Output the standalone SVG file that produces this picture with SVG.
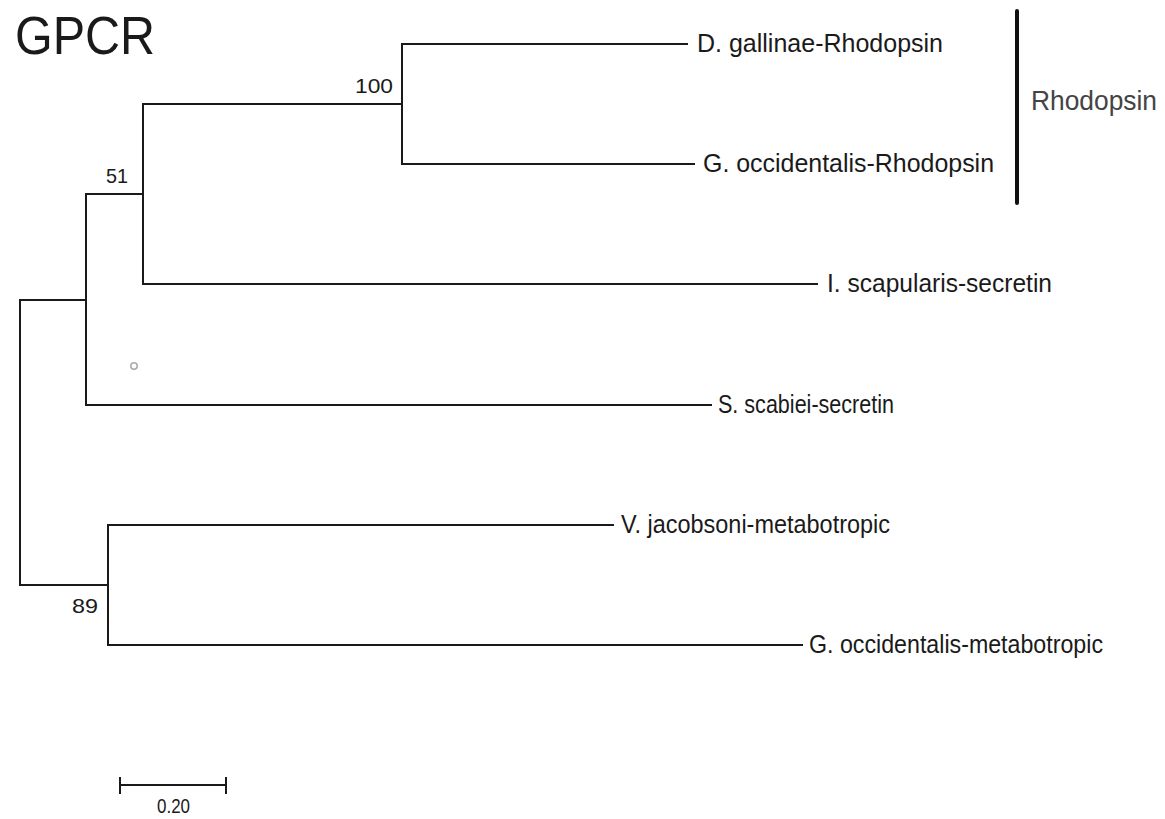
<svg xmlns="http://www.w3.org/2000/svg" width="1165" height="819" viewBox="0 0 1165 819">
<style>
.br{fill:none;stroke:#1a1a1a;stroke-width:2;stroke-linecap:square}
.tx{font-family:"Liberation Sans",Arial,sans-serif;font-size:26px;fill:#1a1a1a}
.bs{font-family:"Liberation Sans",Arial,sans-serif;font-size:21px;fill:#1a1a1a}
</style>
<rect width="1165" height="819" fill="#fff"/>
<text x="15" y="54" font-family="'Liberation Sans',Arial,sans-serif" font-size="54" fill="#1a1a1a" textLength="140" lengthAdjust="spacingAndGlyphs">GPCR</text>
<g id="connectors">
<path class="br" d="M20,300 V585"/>
<path class="br" d="M20,300 H86"/>
<path class="br" d="M20,585 H108"/>
<path class="br" d="M86,194 V405"/>
<path class="br" d="M86,194 H143"/>
<path class="br" d="M86,405 H711"/>
<path class="br" d="M143,104 V284"/>
<path class="br" d="M143,104 H402"/>
<path class="br" d="M143,284 H817"/>
<path class="br" d="M402,44 V164"/>
<path class="br" d="M402,44 H687"/>
<path class="br" d="M402,164 H694"/>
<path class="br" d="M108,525 V645"/>
<path class="br" d="M108,525 H613"/>
<path class="br" d="M108,645 H802"/>
</g>
<g id="node-dgal"><text class="tx" x="697" y="52" textLength="246" lengthAdjust="spacingAndGlyphs">D. gallinae-Rhodopsin</text></g>
<g id="node-gocr"><text class="tx" x="703" y="172" textLength="291" lengthAdjust="spacingAndGlyphs">G. occidentalis-Rhodopsin</text></g>
<g id="node-isc"><text class="tx" x="827" y="292" textLength="225" lengthAdjust="spacingAndGlyphs">I. scapularis-secretin</text></g>
<g id="node-ssc"><text class="tx" x="718" y="413" textLength="176" lengthAdjust="spacingAndGlyphs">S. scabiei-secretin</text></g>
<g id="node-vjac"><text class="tx" x="621" y="533" textLength="269" lengthAdjust="spacingAndGlyphs">V. jacobsoni-metabotropic</text></g>
<g id="node-gocm"><text class="tx" x="809" y="653" textLength="294" lengthAdjust="spacingAndGlyphs">G. occidentalis-metabotropic</text></g>
<g id="node-100"><text class="bs" x="355" y="93" textLength="38" lengthAdjust="spacingAndGlyphs">100</text></g>
<g id="node-51"><text class="bs" x="106" y="183" textLength="22" lengthAdjust="spacingAndGlyphs">51</text></g>
<g id="node-89"><text class="bs" x="72" y="613" textLength="26" lengthAdjust="spacingAndGlyphs">89</text></g>
<g id="marker-circle"><circle cx="134" cy="366" r="3.2" fill="none" stroke="#aaa" stroke-width="1.5"/></g>
<g id="clade-rhodopsin">
<line x1="1017" y1="11" x2="1017" y2="203" stroke="#111" stroke-width="4" stroke-linecap="round"/>
<text x="1031" y="110" font-family="'Liberation Sans',Arial,sans-serif" font-size="28" fill="#444" textLength="126" lengthAdjust="spacingAndGlyphs">Rhodopsin</text>
</g>
<g id="scale-bar">
<path d="M120,785 H226 M120,777 V794 M226,777 V794" fill="none" stroke="#1a1a1a" stroke-width="2"/>
<text class="bs" x="157" y="813" textLength="33" lengthAdjust="spacingAndGlyphs">0.20</text>
</g>
</svg>
